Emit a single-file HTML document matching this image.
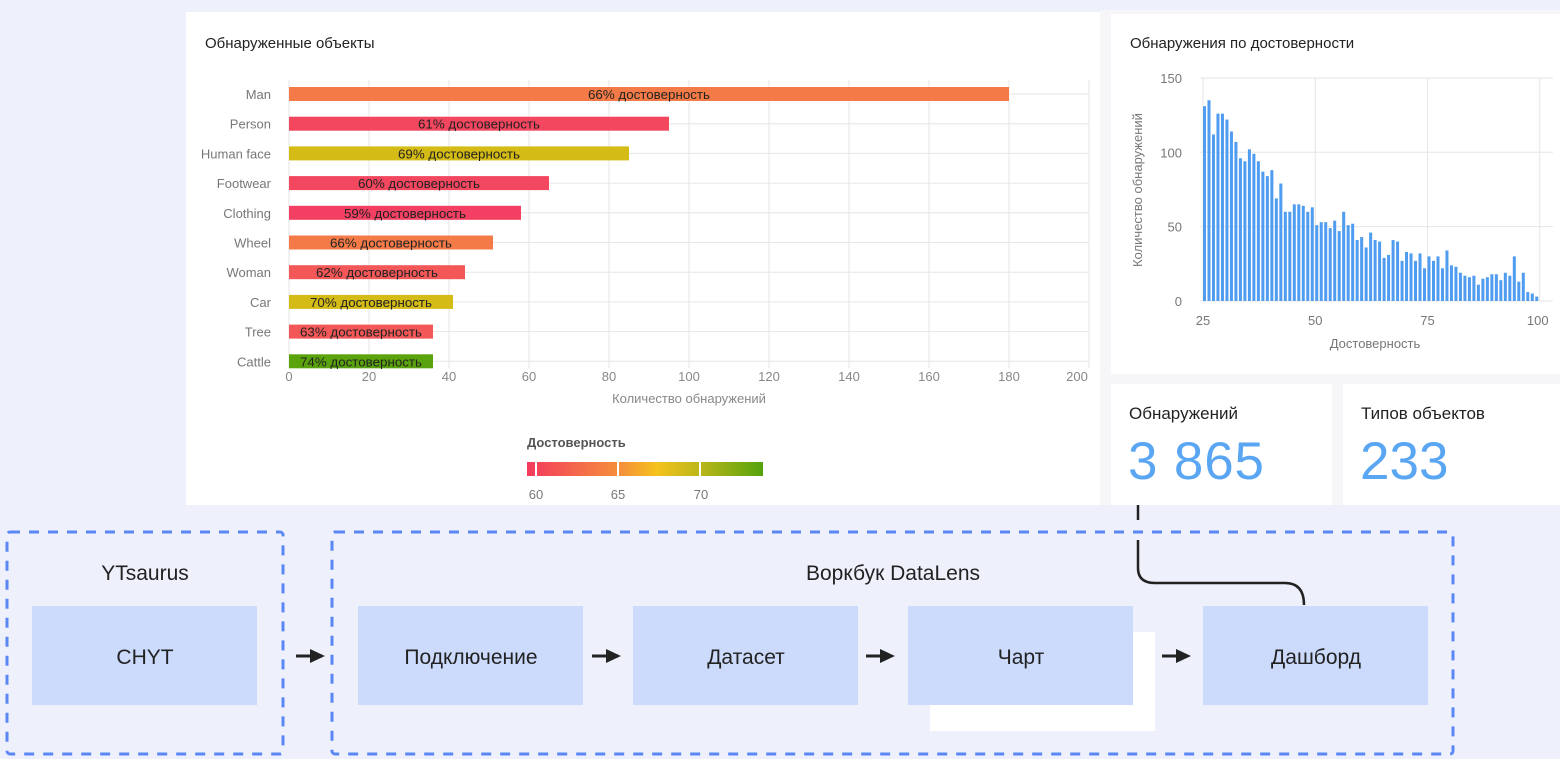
<!DOCTYPE html>
<html><head><meta charset="utf-8"><style>
html,body{margin:0;padding:0;width:1560px;height:759px;overflow:hidden;background:#eef1fc;font-family:"Liberation Sans",sans-serif}
svg{position:absolute;left:0;top:0}
</style></head><body>
<svg id="s" width="1560" height="759" xmlns="http://www.w3.org/2000/svg" font-family="Liberation Sans, sans-serif">
<defs>
<linearGradient id="lg" x1="0" x2="1">
<stop offset="0" stop-color="#f43a5e"/><stop offset="0.4" stop-color="#f5913a"/><stop offset="0.55" stop-color="#f5c21c"/><stop offset="0.75" stop-color="#b5b61a"/><stop offset="1" stop-color="#54a30c"/>
</linearGradient>
</defs>
<rect x="1100" y="10" width="460" height="495" fill="#f6f6f8"/>
<rect x="186" y="12" width="914" height="493" fill="#fff"/>
<rect x="1111" y="14" width="449" height="360" fill="#fff"/>
<rect x="1111" y="384" width="221" height="121" fill="#fff"/>
<rect x="1343" y="384" width="217" height="121" fill="#fff"/>
<text x="205" y="48" font-size="15" fill="#222">Обнаруженные объекты</text>
<text x="1130" y="48" font-size="15" fill="#222">Обнаружения по достоверности</text>
<g id="bar"></g>
<g id="hist"></g>
<text x="527" y="447" font-size="13" fill="#555" font-weight="bold">Достоверность</text>
<rect x="527" y="462" width="236" height="14" fill="url(#lg)"/>
<rect x="535" y="462" width="2" height="14" fill="#fff"/>
<rect x="617" y="462" width="2" height="14" fill="#fff"/>
<rect x="699" y="462" width="2" height="14" fill="#fff"/>
<text x="536" y="499" font-size="13" fill="#777" text-anchor="middle">60</text>
<text x="618" y="499" font-size="13" fill="#777" text-anchor="middle">65</text>
<text x="701" y="499" font-size="13" fill="#777" text-anchor="middle">70</text>
<text x="1129" y="419" font-size="17" fill="#222">Обнаружений</text>
<text x="1128" y="479" font-size="53" fill="#5aa6f3" textLength="136">3 865</text>
<text x="1361" y="419" font-size="17" fill="#222">Типов объектов</text>
<text x="1360" y="479" font-size="53" fill="#5aa6f3">233</text>
<rect x="930" y="632" width="225" height="99" fill="#fff"/>
<rect x="7" y="532" width="276" height="222" fill="none" stroke="#5b87f5" stroke-width="3" stroke-dasharray="10 9" rx="3"/>
<rect x="332" y="532" width="1121" height="222" fill="none" stroke="#5b87f5" stroke-width="3" stroke-dasharray="10 9" rx="3"/>
<line x1="1138" y1="505" x2="1138" y2="520" stroke="#222" stroke-width="2.5"/>
<path d="M1138 540 V568 Q1138 583 1155 583 H1285 Q1304 583 1304 605" fill="none" stroke="#222" stroke-width="2.5"/>
<text x="145" y="580" font-size="21" fill="#222" text-anchor="middle">YTsaurus</text>
<text x="893" y="580" font-size="21" fill="#222" text-anchor="middle">Воркбук DataLens</text>
<rect x="32" y="606" width="225" height="99" fill="#ccdafc"/>
<rect x="358" y="606" width="225" height="99" fill="#ccdafc"/>
<rect x="633" y="606" width="225" height="99" fill="#ccdafc"/>
<rect x="908" y="606" width="225" height="99" fill="#ccdafc"/>
<rect x="1203" y="606" width="225" height="99" fill="#ccdafc"/>
<g font-size="21" fill="#222" text-anchor="middle">
<text x="145" y="664">CHYT</text>
<text x="471" y="664">Подключение</text>
<text x="746" y="664">Датасет</text>
<text x="1021" y="664">Чарт</text>
<text x="1316" y="664">Дашборд</text>
</g>
<g id="arr"></g>
</svg>
<script>
var NS="http://www.w3.org/2000/svg";
function el(p,t,a,txt){var e=document.createElementNS(NS,t);for(var k in a)e.setAttribute(k,a[k]);if(txt!=null)e.textContent=txt;document.getElementById(p).appendChild(e);return e;}
var names=["Man","Person","Human face","Footwear","Clothing","Wheel","Woman","Car","Tree","Cattle"];
var vals=[180,95,85,65,58,51,44,41,36,36];
var pct=[66,61,69,60,59,66,62,70,63,74];
var cols=["#f47b47","#f3465f","#d5bb15","#f3465f","#f33f62","#f47b47","#f35757","#d5bb15","#f35757","#5aa30c"];
for(var i=0;i<=10;i++){var x=289+i*80;el("bar","line",{x1:x,y1:80,x2:x,y2:368,stroke:"#e6e6e6"});el("bar","text",{x:x-(i==10?12:0),y:381,"font-size":13,fill:"#888","text-anchor":"middle"},i*20);}
for(var i=0;i<10;i++){var y=94+i*29.7;
el("bar","line",{x1:289,y1:y,x2:1089,y2:y,stroke:"#e6e6e6"});
el("bar","text",{x:271,y:y+5,"font-size":13,fill:"#777","text-anchor":"end"},names[i]);
var w=vals[i]*4;el("bar","rect",{x:289,y:y-7,width:w,height:14,fill:cols[i]});
el("bar","text",{x:289+w/2,y:y+5,"font-size":12.5,fill:"#222","text-anchor":"middle","textLength":122,"lengthAdjust":"spacingAndGlyphs"},pct[i]+"% достоверность");}
el("bar","text",{x:689,y:403,"font-size":13,fill:"#888","text-anchor":"middle"},"Количество обнаружений");
var hv=[131,135,112,126,126,122,114,107,96,94,102,99,94,87,84,88,69,79,60,60,65,65,64,60,63,51,53,53,49,54,47,60,51,52,41,43,36,46,41,40,29,31,41,40,27,33,32,27,32,22,30,27,30,22,34,24,23,19,17,16,17,11,15,16,18,18,14,19,17,30,13,19,6,5,3];
function hx(v){return 1203+(v-25)*4.49;} function hy(v){return 301-v*1.487;}
[0,50,100,150].forEach(function(v){el("hist","line",{x1:1200,y1:hy(v),x2:1553,y2:hy(v),stroke:"#e6e6e6"});el("hist","text",{x:1182,y:hy(v)+5,"font-size":13,fill:"#777","text-anchor":"end"},v);});
[25,50,75,100].forEach(function(v){el("hist","line",{x1:hx(v),y1:78,x2:hx(v),y2:301,stroke:"#e6e6e6"});el("hist","text",{x:hx(v)+(v==100?-2:0),y:325,"font-size":13,fill:"#777","text-anchor":"middle"},v);});
var step=(hx(100)-hx(25))/hv.length;
for(var i=0;i<hv.length;i++){var x=1203+i*step;el("hist","rect",{x:x,y:hy(hv[i]),width:3,height:hv[i]*1.487,fill:"#4f9cf0"});}
el("hist","text",{x:1375,y:348,"font-size":13,fill:"#777","text-anchor":"middle"},"Достоверность");
el("hist","text",{x:0,y:0,"font-size":13,fill:"#777","text-anchor":"middle",transform:"translate(1142,190) rotate(-90)"},"Количество обнаружений");
[296,592,866,1162].forEach(function(x){el("arr","line",{x1:x,y1:656,x2:x+18,y2:656,stroke:"#222","stroke-width":3});el("arr","path",{d:"M"+(x+14)+" 649 L"+(x+29)+" 656 L"+(x+14)+" 663 Z",fill:"#222"});});
</script>
</body></html>
